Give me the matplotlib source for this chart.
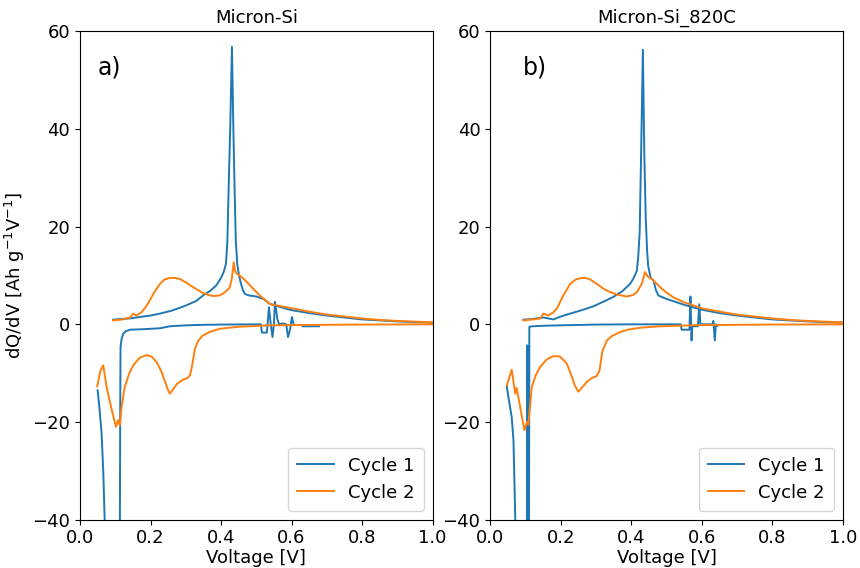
import numpy as np
import matplotlib
matplotlib.use("Agg")
import matplotlib.pyplot as plt

titles = ["Micron-Si", "Micron-Si_820C"]
panel_labels = ["a)", "b)"]
series_names = ["Cycle 1", "Cycle 2"]
xticks = [0.0, 0.2, 0.4, 0.6, 0.8, 1.0]
yticks = [-40, -20, 0, 20, 40, 60]

# ---------------- Panel a) Micron-Si ----------------
a_c1_chg_v = [0.094, 0.12, 0.14, 0.16, 0.18, 0.20, 0.227, 0.26, 0.28, 0.302, 0.33, 0.349, 0.37, 0.387,
              0.40, 0.408, 0.414, 0.418, 0.421, 0.426, 0.431, 0.435, 0.439, 0.442, 0.446, 0.451,
              0.456, 0.462, 0.468, 0.48, 0.50, 0.52, 0.538, 0.57, 0.60, 0.65, 0.70, 0.75, 0.80,
              0.85, 0.90, 0.95, 1.0]
a_c1_chg_q = [0.95, 1.1, 1.2, 1.4, 1.6, 1.8, 2.2, 2.8, 3.3, 3.9, 4.8, 5.9, 6.9, 8.0,
              9.5, 10.8, 12.4, 17, 26, 40, 56.8, 40, 26, 17, 12.4, 10.0,
              8.5, 7.0, 6.2, 5.9, 5.7, 5.2, 4.2, 3.5, 2.9, 2.3, 1.8, 1.4, 1.0,
              0.8, 0.6, 0.45, 0.35]
a_c1_dis1_v = [0.678, 0.631]
a_c1_dis1_q = [-0.4, -0.4]
a_c1_dis2_v = [0.606, 0.601, 0.596, 0.590, 0.585, 0.575, 0.565, 0.560, 0.556, 0.553, 0.550, 0.546,
               0.541, 0.536, 0.532, 0.530, 0.516, 0.513, 0.50, 0.40, 0.35, 0.302, 0.255, 0.227,
               0.18, 0.142, 0.13, 0.123, 0.118, 0.115, 0.114, 0.113]
a_c1_dis2_q = [0.0, 1.5, -1.0, -2.6, 0.0, 0.2, 0.0, 1.0, 3.0, 4.6, 0.0, -2.6,
               0.0, 3.5, 0.0, -1.7, -1.7, 0.0, 0.0, -0.05, -0.1, -0.2, -0.4, -0.8,
               -1.0, -1.1, -1.4, -1.9, -3.0, -4.6, -20, -45]
a_c1_dis3_v = [0.072, 0.070, 0.066, 0.061, 0.055, 0.050]
a_c1_dis3_q = [-45, -40, -30, -22, -17, -13.5]

a_c2_chg_v = [0.094, 0.12, 0.142, 0.151, 0.16, 0.175, 0.187, 0.198, 0.21, 0.227, 0.24, 0.255, 0.27,
              0.283, 0.30, 0.321, 0.335, 0.349, 0.365, 0.378, 0.395, 0.406, 0.418, 0.425, 0.431,
              0.436, 0.44, 0.444, 0.458, 0.47, 0.482, 0.495, 0.51, 0.525, 0.538, 0.57, 0.60, 0.65,
              0.70, 0.75, 0.80, 0.85, 0.90, 0.95, 1.0]
a_c2_chg_q = [0.8, 1.0, 1.4, 2.2, 1.8, 2.5, 3.6, 4.9, 6.5, 8.3, 9.2, 9.5, 9.5,
              9.3, 8.6, 7.6, 7.0, 6.4, 6.0, 5.8, 5.9, 6.3, 7.0, 7.6, 9.5,
              12.7, 11.0, 10.4, 9.7, 8.9, 8.0, 7.0, 5.9, 5.0, 4.2, 3.7, 3.3, 2.6,
              2.0, 1.6, 1.2, 0.9, 0.7, 0.55, 0.4]
a_c2_dis_v = [1.0, 0.8, 0.6, 0.538, 0.45, 0.397, 0.37, 0.348, 0.335, 0.326, 0.318, 0.312, 0.305,
              0.293, 0.275, 0.265, 0.255, 0.25, 0.24, 0.23, 0.217, 0.203, 0.189, 0.17, 0.151, 0.14,
              0.127, 0.118, 0.113, 0.108, 0.102, 0.09, 0.0755, 0.066, 0.058, 0.049]
a_c2_dis_q = [0.0, -0.05, -0.15, -0.2, -0.5, -0.9, -1.5, -2.3, -3.4, -5.0, -8.5, -10.4, -11.0,
              -11.3, -12.2, -13.2, -14.2, -13.5, -11.5, -9.5, -7.7, -6.6, -6.3, -6.8, -8.4, -10.0,
              -12.8, -17.0, -20.7, -19.6, -21.0, -17.5, -12.8, -8.4, -9.5, -12.7]

# ---------------- Panel b) Micron-Si_820C ----------------
b_c1_chg_v = [0.094, 0.12, 0.151, 0.179, 0.20, 0.227, 0.26, 0.293, 0.32, 0.349, 0.375, 0.397, 0.407,
              0.416, 0.42, 0.424, 0.428, 0.433, 0.437, 0.441, 0.445, 0.448, 0.455, 0.463, 0.470,
              0.477, 0.50, 0.55, 0.60, 0.65, 0.70, 0.75, 0.80, 0.85, 0.90, 0.95, 1.0]
b_c1_chg_q = [0.95, 1.1, 1.4, 1.0, 1.6, 2.2, 2.9, 3.7, 4.6, 5.6, 6.8, 8.3, 9.5,
              11.0, 14, 19, 35, 56.2, 35, 22, 15, 12, 9.5, 9.0, 7.0,
              5.9, 5.2, 4.0, 3.0, 2.3, 1.8, 1.4, 1.0, 0.8, 0.6, 0.45, 0.35]
b_c1_dis1_v = [0.645, 0.640, 0.637, 0.633, 0.630, 0.61, 0.596, 0.593, 0.589, 0.575, 0.573, 0.571,
               0.568, 0.565, 0.550, 0.543, 0.540, 0.40, 0.30, 0.20, 0.15, 0.12, 0.111, 0.110,
               0.106, 0.105, 0.104, 0.103]
b_c1_dis1_q = [-0.3, 0.0, -3.3, 0.7, 0.0, 0.0, 0.0, 4.1, -0.4, -0.4, -0.5, -3.3,
               5.7, -1.1, -1.1, -1.1, 0.0, 0.0, -0.05, -0.2, -0.3, -0.4, -0.5, -45,
               -45, -4.3, -45, -45]
b_c1_dis2_v = [0.072, 0.071, 0.066, 0.061, 0.047]
b_c1_dis2_q = [-45, -39.4, -23.7, -19.0, -12.8]

b_c2_chg_v = [0.094, 0.12, 0.142, 0.151, 0.165, 0.178, 0.189, 0.205, 0.227, 0.243, 0.259, 0.27, 0.283,
              0.30, 0.321, 0.34, 0.359, 0.387, 0.405, 0.416, 0.43, 0.439, 0.448, 0.46, 0.472, 0.485,
              0.50, 0.52, 0.55, 0.60, 0.65, 0.70, 0.75, 0.80, 0.85, 0.90, 0.95, 1.0]
b_c2_chg_q = [0.8, 1.0, 1.2, 2.2, 1.8, 2.4, 3.2, 5.6, 8.3, 9.2, 9.5, 9.5, 9.2,
              8.4, 7.3, 6.6, 6.1, 5.7, 6.0, 6.6, 8.3, 10.7, 9.7, 9.2, 8.3, 7.4,
              6.5, 5.5, 4.5, 3.3, 2.6, 2.0, 1.6, 1.2, 0.9, 0.7, 0.55, 0.4]
b_c2_dis_v = [1.0, 0.8, 0.6, 0.48, 0.425, 0.39, 0.368, 0.345, 0.331, 0.318, 0.31, 0.302, 0.288, 0.274,
              0.262, 0.25, 0.24, 0.229, 0.217, 0.198, 0.179, 0.16, 0.142, 0.13, 0.118, 0.108, 0.104,
              0.097, 0.085, 0.075, 0.071, 0.061, 0.047]
b_c2_dis_q = [0.0, -0.05, -0.15, -0.4, -0.7, -1.1, -1.6, -2.4, -3.3, -5.5, -9.5, -10.6, -11.0, -11.8,
              -12.8, -13.8, -12.5, -10.2, -8.0, -6.6, -6.5, -7.2, -8.7, -10.3, -12.8, -20.6, -20.0,
              -21.7, -16.9, -13.0, -14.2, -9.3, -12.5]


def join(*branches):
    vs, qs = [], []
    for v, q in branches:
        vs += list(v) + [np.nan]
        qs += list(q) + [np.nan]
    return np.array(vs), np.array(qs)


panels = [
    [join((a_c1_chg_v, a_c1_chg_q), (a_c1_dis1_v, a_c1_dis1_q), (a_c1_dis2_v, a_c1_dis2_q),
          (a_c1_dis3_v, a_c1_dis3_q)),
     join((a_c2_chg_v, a_c2_chg_q), (a_c2_dis_v, a_c2_dis_q))],
    [join((b_c1_chg_v, b_c1_chg_q), (b_c1_dis1_v, b_c1_dis1_q), (b_c1_dis2_v, b_c1_dis2_q)),
     join((b_c2_chg_v, b_c2_chg_q), (b_c2_dis_v, b_c2_dis_q))],
]

colors = ["#1f77b4", "#ff7f0e"]

fig = plt.figure(figsize=(8.6, 5.68), dpi=100)
axes = [fig.add_axes([0.093, 0.085, 0.410, 0.860]),
        fig.add_axes([0.570, 0.085, 0.410, 0.860])]
label_x = [0.05, 0.093]

for i, ax in enumerate(axes):
    for j, (v, q) in enumerate(panels[i]):
        ax.plot(v, q, color=colors[j], lw=1.4, label=series_names[j])
    ax.set_xlim(0, 1.0)
    ax.set_ylim(-40, 60)
    ax.set_xticks(xticks)
    ax.set_yticks(yticks)
    ax.tick_params(labelsize=13)
    ax.set_xlabel("Voltage [V]", fontsize=13, labelpad=1)
    ax.set_title(titles[i], fontsize=13)
    ax.text(label_x[i], 0.925, panel_labels[i], transform=ax.transAxes, fontsize=17,
            va="center", ha="left")
    ax.legend(loc="lower right", fontsize=13, handlelength=2.0, borderpad=0.5)

axes[0].set_ylabel("dQ/dV [Ah g$^{-1}$V$^{-1}$]", fontsize=13)

fig.savefig("out.png", dpi=100)
